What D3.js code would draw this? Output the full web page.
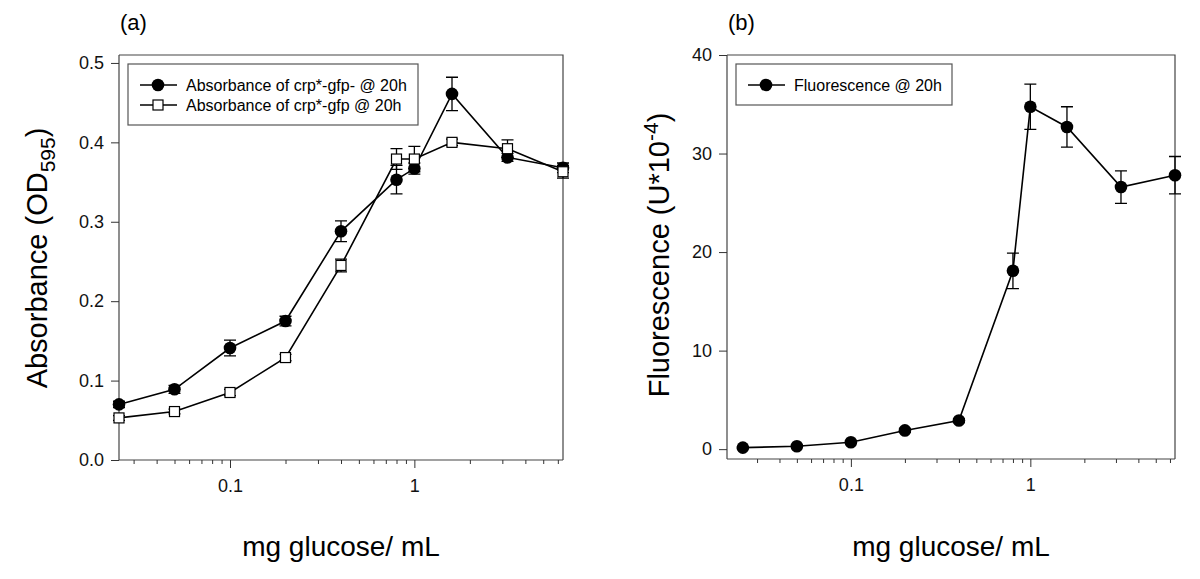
<!DOCTYPE html>
<html><head><meta charset="utf-8">
<script src="https://cdn.jsdelivr.net/npm/d3@7"></script>
<style>
body{margin:0;background:#fff;}
svg{display:block;font-family:"Liberation Sans",Arial,sans-serif;}
</style></head>
<body><svg id="c" width="1200" height="579"></svg>
<script>
// ---- data ----
const conc = [0.025, 0.05, 0.1, 0.2, 0.4, 0.8, 1, 1.6, 3.2, 6.4];
const absGfpMinus    = [0.070, 0.089, 0.141, 0.175, 0.288, 0.353, 0.367, 0.461, 0.381, 0.368];
const absGfpMinusErr = [0.004, 0.005, 0.010, 0.006, 0.013, 0.018, 0.007, 0.021, 0.005, 0.006];
const absGfp         = [0.053, 0.061, 0.085, 0.129, 0.245, 0.379, 0.379, 0.400, 0.392, 0.363];
const absGfpErr      = [0.003, 0.003, 0.004, 0.004, 0.008, 0.013, 0.016, 0.004, 0.011, 0.008];
const fluor    = [0.15, 0.3, 0.7, 1.9, 2.9, 18.1, 34.75, 32.7, 26.6, 27.8];
const fluorErr = [0.1, 0.1, 0.1, 0.2, 0.2, 1.8, 2.3, 2.05, 1.65, 1.9];
const xMajorTicks = [0.1, 1];
const xMinorTicks = [0.03,0.04,0.05,0.06,0.07,0.08,0.09,0.2,0.3,0.4,0.5,0.6,0.7,0.8,0.9,2,3,4,5,6];
const yTicksA = [0, 0.1, 0.2, 0.3, 0.4, 0.5];
const yTicksB = [0, 10, 20, 30, 40];
const legendA = ["Absorbance of crp*-gfp- @ 20h", "Absorbance of crp*-gfp @ 20h"];
const legendB = ["Fluorescence @ 20h"];
const xTitle = "mg glucose/ mL";

const svg = d3.select("#c");
const ink = "#000";

function panel(o){
  const g = svg.append("g");
  const x = d3.scaleLog().domain(o.xDomain).range([o.left, o.right]);
  const y = d3.scaleLinear().domain(o.yDomain).range([o.bottom, o.top]);
  g.append("path").attr("d", `M${o.left},${o.top}H${o.right}V${o.bottom}`)
    .attr("fill","none").attr("stroke","#444").attr("stroke-width",1.2);
  const xaMin = g.append("g").attr("transform",`translate(0,${o.bottom})`)
    .call(d3.axisBottom(x).tickValues(xMinorTicks).tickSize(4).tickFormat(""));
  const xaMaj = g.append("g").attr("transform",`translate(0,${o.bottom})`)
    .call(d3.axisBottom(x).tickValues(xMajorTicks).tickSize(8).tickSizeOuter(0).tickPadding(11).tickFormat(d3.format("")));
  [xaMin, xaMaj].forEach(a=>{
    a.selectAll(".tick line").attr("stroke","#333");
    a.selectAll("text").attr("font-size",18).attr("fill","#111").attr("font-family","Liberation Sans, Arial");
  });
  xaMin.select(".domain").attr("d",`M${o.left},0H${o.right}`).attr("stroke","#444").attr("stroke-width",1.2);
  xaMaj.select(".domain").remove();
  const ya = g.append("g").attr("transform",`translate(${o.left},0)`)
    .call(d3.axisLeft(y).tickValues(o.yTicks).tickSize(8).tickSizeOuter(0).tickPadding(7).tickFormat(o.yFmt));
  ya.select(".domain").attr("d",`M0,${o.top}V${o.bottom}`).attr("stroke","#444").attr("stroke-width",1.2);
  ya.selectAll(".tick line").attr("stroke","#333");
  ya.selectAll("text").attr("font-size",18).attr("fill","#111");
  g.append("text").attr("x",o.left+1).attr("y",30).attr("font-size",22).text(o.label);
  g.append("text").attr("x",(o.left+o.right)/2).attr("y",556).attr("text-anchor","middle")
    .attr("font-size",28).text(xTitle);
  return {g,x,y};
}

function series(p, xs, ys, es, shape){
  const g = p.g.append("g");
  const line = d3.line().x((d,i)=>p.x(xs[i])).y(d=>p.y(d));
  g.append("path").datum(ys).attr("d",line).attr("fill","none").attr("stroke",ink).attr("stroke-width",1.6);
  const cap = 6;
  ys.forEach((v,i)=>{
    const cx = p.x(xs[i]), y1 = p.y(v+es[i]), y2 = p.y(v-es[i]);
    g.append("path").attr("d",`M${cx},${y1}V${y2}M${cx-cap},${y1}H${cx+cap}M${cx-cap},${y2}H${cx+cap}`)
      .attr("stroke",ink).attr("stroke-width",1.3).attr("fill","none");
  });
  ys.forEach((v,i)=>{
    const cx = p.x(xs[i]), cy = p.y(v);
    if(shape==="circle") g.append("circle").attr("cx",cx).attr("cy",cy).attr("r",6.3).attr("fill",ink);
    else g.append("rect").attr("x",cx-5).attr("y",cy-5).attr("width",10).attr("height",10)
      .attr("fill","#fff").attr("stroke",ink).attr("stroke-width",1.2);
  });
}

function legend(p, box, items){
  const g = p.g.append("g");
  g.append("rect").attr("x",box.x).attr("y",box.y).attr("width",box.w).attr("height",box.h)
    .attr("fill","#fff").attr("stroke","#555").attr("stroke-width",1.2);
  items.forEach((it,i)=>{
    const yy = box.y + 21 + i*20;
    g.append("line").attr("x1",box.x+12).attr("x2",box.x+49).attr("y1",yy).attr("y2",yy).attr("stroke",ink).attr("stroke-width",1.6);
    const mx = box.x+30;
    if(it.shape==="circle") g.append("circle").attr("cx",mx).attr("cy",yy).attr("r",6.3).attr("fill",ink);
    else g.append("rect").attr("x",mx-5).attr("y",yy-5).attr("width",10).attr("height",10).attr("fill","#fff").attr("stroke",ink).attr("stroke-width",1.2);
    g.append("text").attr("x",box.x+58).attr("y",yy+6).attr("font-size",16).text(it.text);
  });
}

// Panel (a)
const pa = panel({left:119,right:563,top:55,bottom:460,xDomain:[0.025,6.4],yDomain:[0,0.51],
  yTicks:yTicksA,yFmt:d3.format(".1f"),label:"(a)"});
series(pa, conc, absGfpMinus, absGfpMinusErr, "circle");
series(pa, conc, absGfp, absGfpErr, "square");
legend(pa,{x:128,y:64,w:290,h:61},[{shape:"circle",text:legendA[0]},{shape:"square",text:legendA[1]}]);
const ta = pa.g.append("text").attr("transform","translate(47,258) rotate(-90)").attr("text-anchor","middle").attr("font-size",29);
ta.append("tspan").text("Absorbance (OD");
ta.append("tspan").attr("font-size",21).attr("dy",8).text("595");
ta.append("tspan").attr("dy",-8).text(")");

// Panel (b)
const pb = panel({left:727,right:1175,top:55,bottom:459,xDomain:[0.0204,6.4],yDomain:[-1,40],
  yTicks:yTicksB,yFmt:d3.format("d"),label:"(b)"});
series(pb, conc, fluor, fluorErr, "circle");
legend(pb,{x:736,y:64,w:216,h:41},[{shape:"circle",text:legendB[0]}]);
const tb = pb.g.append("text").attr("transform","translate(669,255) rotate(-90)").attr("text-anchor","middle").attr("font-size",29);
tb.append("tspan").text("Fluorescence (U*10");
tb.append("tspan").attr("font-size",21).attr("dy",-11).text("-4");
tb.append("tspan").attr("dy",11).text(")");
</script></body></html>
